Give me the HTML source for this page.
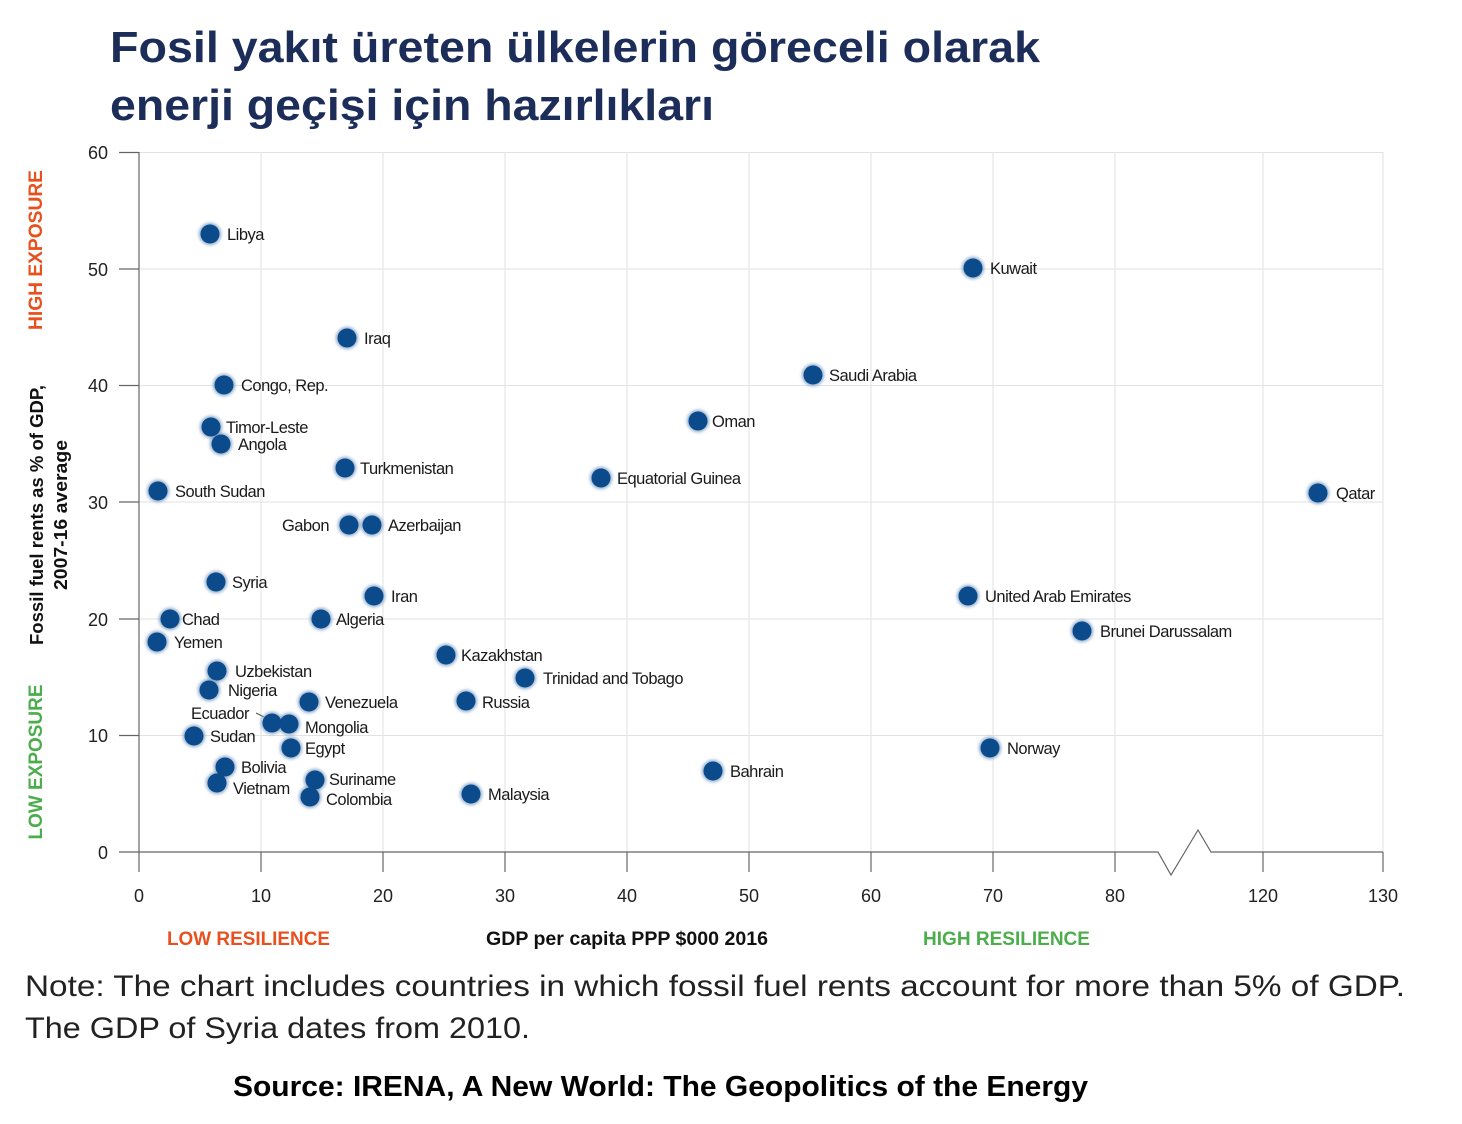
<!DOCTYPE html>
<html><head><meta charset="utf-8"><style>
html,body{margin:0;padding:0;background:#fff}
svg{display:block}
text{font-family:"Liberation Sans",sans-serif}
</style></head><body>
<svg width="1462" height="1124" viewBox="0 0 1462 1124" xmlns="http://www.w3.org/2000/svg">
<defs>
<filter id="g" x="-50%" y="-50%" width="200%" height="200%"><feGaussianBlur stdDeviation="1.6"/></filter>
</defs>
<text x="110" y="62" font-size="44" font-weight="bold" fill="#1c2d5a" textLength="930" lengthAdjust="spacingAndGlyphs">Fosil yakıt üreten ülkelerin göreceli olarak</text>
<text x="110" y="120" font-size="44" font-weight="bold" fill="#1c2d5a" textLength="604" lengthAdjust="spacingAndGlyphs">enerji geçişi için hazırlıkları</text>

<g stroke="#e2e2e2" stroke-width="1">
<line x1="139" y1="152.5" x2="1383" y2="152.5"/>
<line x1="139" y1="269" x2="1383" y2="269"/>
<line x1="139" y1="385.5" x2="1383" y2="385.5"/>
<line x1="139" y1="502" x2="1383" y2="502"/>
<line x1="139" y1="619" x2="1383" y2="619"/>
<line x1="139" y1="735.5" x2="1383" y2="735.5"/>
<line x1="261" y1="152" x2="261" y2="852"/>
<line x1="383" y1="152" x2="383" y2="852"/>
<line x1="505" y1="152" x2="505" y2="852"/>
<line x1="627" y1="152" x2="627" y2="852"/>
<line x1="749" y1="152" x2="749" y2="852"/>
<line x1="871" y1="152" x2="871" y2="852"/>
<line x1="993" y1="152" x2="993" y2="852"/>
<line x1="1115" y1="152" x2="1115" y2="852"/>
<line x1="1263" y1="152" x2="1263" y2="852"/>
<line x1="1383" y1="152" x2="1383" y2="852"/>
</g>
<g stroke="#666" stroke-width="1.2" fill="none">
<line x1="139" y1="152" x2="139" y2="872"/>
<line x1="119" y1="152.5" x2="139" y2="152.5"/>
<line x1="119" y1="269" x2="139" y2="269"/>
<line x1="119" y1="385.5" x2="139" y2="385.5"/>
<line x1="119" y1="502" x2="139" y2="502"/>
<line x1="119" y1="619" x2="139" y2="619"/>
<line x1="119" y1="735.5" x2="139" y2="735.5"/>
<polyline points="119,852 1158,852 1171,875 1198,830 1211,852 1383,852"/>
<line x1="261" y1="852" x2="261" y2="872"/>
<line x1="383" y1="852" x2="383" y2="872"/>
<line x1="505" y1="852" x2="505" y2="872"/>
<line x1="627" y1="852" x2="627" y2="872"/>
<line x1="749" y1="852" x2="749" y2="872"/>
<line x1="871" y1="852" x2="871" y2="872"/>
<line x1="993" y1="852" x2="993" y2="872"/>
<line x1="1115" y1="852" x2="1115" y2="872"/>
<line x1="1263" y1="852" x2="1263" y2="872"/>
<line x1="1383" y1="852" x2="1383" y2="872"/>
</g>
<g font-size="18" fill="#222" text-anchor="end">
<text x="108" y="159">60</text><text x="108" y="276">50</text><text x="108" y="392">40</text>
<text x="108" y="509">30</text><text x="108" y="626">20</text><text x="108" y="742">10</text><text x="108" y="859">0</text>
</g>
<g font-size="18" fill="#222" text-anchor="middle">
<text x="139" y="902">0</text><text x="261" y="902">10</text><text x="383" y="902">20</text><text x="505" y="902">30</text>
<text x="627" y="902">40</text><text x="749" y="902">50</text><text x="871" y="902">60</text><text x="993" y="902">70</text>
<text x="1115" y="902">80</text><text x="1263" y="902">120</text><text x="1383" y="902">130</text>
</g>

<text transform="translate(42,250) rotate(-90)" text-anchor="middle" font-size="19" font-weight="bold" fill="#e8501e" textLength="160" lengthAdjust="spacingAndGlyphs">HIGH EXPOSURE</text>
<text transform="translate(42,762) rotate(-90)" text-anchor="middle" font-size="19" font-weight="bold" fill="#4cad4c" textLength="155" lengthAdjust="spacingAndGlyphs">LOW EXPOSURE</text>
<text transform="translate(43,515) rotate(-90)" text-anchor="middle" font-size="18" font-weight="bold" fill="#111" textLength="260" lengthAdjust="spacingAndGlyphs">Fossil fuel rents as % of GDP,</text>
<text transform="translate(67,515) rotate(-90)" text-anchor="middle" font-size="18" font-weight="bold" fill="#111" textLength="150" lengthAdjust="spacingAndGlyphs">2007-16 average</text>

<text x="167" y="945" font-size="19" font-weight="bold" fill="#e8501e" textLength="163" lengthAdjust="spacingAndGlyphs">LOW RESILIENCE</text>
<text x="486" y="945" font-size="19" font-weight="bold" fill="#111" textLength="282" lengthAdjust="spacingAndGlyphs">GDP per capita PPP $000 2016</text>
<text x="923" y="945" font-size="19" font-weight="bold" fill="#4cad4c" textLength="167" lengthAdjust="spacingAndGlyphs">HIGH RESILIENCE</text>

<line x1="256" y1="713" x2="266" y2="718" stroke="#555" stroke-width="1"/>

<g id="dots">
<g fill="#8aa9c9" filter="url(#g)">
<circle cx="210" cy="234" r="11"/><circle cx="973" cy="268" r="11"/><circle cx="347" cy="338" r="11"/><circle cx="813" cy="375" r="11"/>
<circle cx="224" cy="385" r="11"/><circle cx="698" cy="421" r="11"/><circle cx="211" cy="427" r="11"/><circle cx="221" cy="444" r="11"/>
<circle cx="345" cy="468" r="11"/><circle cx="601" cy="478" r="11"/><circle cx="158" cy="491" r="11"/><circle cx="1318" cy="493" r="11"/>
<circle cx="349" cy="525" r="11"/><circle cx="372" cy="525" r="11"/><circle cx="216" cy="582" r="11"/><circle cx="374" cy="596" r="11"/>
<circle cx="968" cy="596" r="11"/><circle cx="170" cy="619" r="11"/><circle cx="321" cy="619" r="11"/><circle cx="1082" cy="631" r="11"/>
<circle cx="157" cy="642" r="11"/><circle cx="446" cy="655" r="11"/><circle cx="217" cy="671" r="11"/><circle cx="525" cy="678" r="11"/>
<circle cx="209" cy="690" r="11"/><circle cx="309" cy="702" r="11"/><circle cx="466" cy="701" r="11"/><circle cx="272" cy="723" r="11"/>
<circle cx="289" cy="724" r="11"/><circle cx="194" cy="736" r="11"/><circle cx="291" cy="748" r="11"/><circle cx="990" cy="748" r="11"/>
<circle cx="225" cy="767" r="11"/><circle cx="713" cy="771" r="11"/><circle cx="217" cy="783" r="11"/><circle cx="315" cy="780" r="11"/>
<circle cx="310" cy="797" r="11"/><circle cx="471" cy="794" r="11"/>
</g>
<g fill="#0b4a8b">
<circle cx="210" cy="234" r="9.5"/><circle cx="973" cy="268" r="9.5"/><circle cx="347" cy="338" r="9.5"/><circle cx="813" cy="375" r="9.5"/>
<circle cx="224" cy="385" r="9.5"/><circle cx="698" cy="421" r="9.5"/><circle cx="211" cy="427" r="9.5"/><circle cx="221" cy="444" r="9.5"/>
<circle cx="345" cy="468" r="9.5"/><circle cx="601" cy="478" r="9.5"/><circle cx="158" cy="491" r="9.5"/><circle cx="1318" cy="493" r="9.5"/>
<circle cx="349" cy="525" r="9.5"/><circle cx="372" cy="525" r="9.5"/><circle cx="216" cy="582" r="9.5"/><circle cx="374" cy="596" r="9.5"/>
<circle cx="968" cy="596" r="9.5"/><circle cx="170" cy="619" r="9.5"/><circle cx="321" cy="619" r="9.5"/><circle cx="1082" cy="631" r="9.5"/>
<circle cx="157" cy="642" r="9.5"/><circle cx="446" cy="655" r="9.5"/><circle cx="217" cy="671" r="9.5"/><circle cx="525" cy="678" r="9.5"/>
<circle cx="209" cy="690" r="9.5"/><circle cx="309" cy="702" r="9.5"/><circle cx="466" cy="701" r="9.5"/><circle cx="272" cy="723" r="9.5"/>
<circle cx="289" cy="724" r="9.5"/><circle cx="194" cy="736" r="9.5"/><circle cx="291" cy="748" r="9.5"/><circle cx="990" cy="748" r="9.5"/>
<circle cx="225" cy="767" r="9.5"/><circle cx="713" cy="771" r="9.5"/><circle cx="217" cy="783" r="9.5"/><circle cx="315" cy="780" r="9.5"/>
<circle cx="310" cy="797" r="9.5"/><circle cx="471" cy="794" r="9.5"/>
</g>
</g>

<g font-size="16.5" fill="#1a1a1a" letter-spacing="-0.5">
<text x="227" y="240">Libya</text>
<text x="990" y="274">Kuwait</text>
<text x="364" y="344">Iraq</text>
<text x="829" y="381">Saudi Arabia</text>
<text x="241" y="391">Congo, Rep.</text>
<text x="712" y="427">Oman</text>
<text x="226" y="433">Timor-Leste</text>
<text x="238" y="450">Angola</text>
<text x="360" y="474">Turkmenistan</text>
<text x="617" y="484">Equatorial Guinea</text>
<text x="175" y="497">South Sudan</text>
<text x="1336" y="499">Qatar</text>
<text x="329" y="531" text-anchor="end">Gabon</text>
<text x="388" y="531">Azerbaijan</text>
<text x="232" y="588">Syria</text>
<text x="391" y="602">Iran</text>
<text x="985" y="602">United Arab Emirates</text>
<text x="182" y="625">Chad</text>
<text x="336" y="625">Algeria</text>
<text x="1100" y="637">Brunei Darussalam</text>
<text x="174" y="648">Yemen</text>
<text x="461" y="661">Kazakhstan</text>
<text x="235" y="677">Uzbekistan</text>
<text x="543" y="684">Trinidad and Tobago</text>
<text x="228" y="696">Nigeria</text>
<text x="325" y="708">Venezuela</text>
<text x="482" y="708">Russia</text>
<text x="191" y="719">Ecuador</text>
<text x="305" y="733">Mongolia</text>
<text x="210" y="742">Sudan</text>
<text x="305" y="754">Egypt</text>
<text x="1007" y="754">Norway</text>
<text x="241" y="773">Bolivia</text>
<text x="730" y="777">Bahrain</text>
<text x="233" y="794">Vietnam</text>
<text x="329" y="785">Suriname</text>
<text x="326" y="805">Colombia</text>
<text x="488" y="800">Malaysia</text>
</g>

<text x="25" y="996" font-size="30" fill="#222" textLength="1380" lengthAdjust="spacingAndGlyphs">Note: The chart includes countries in which fossil fuel rents account for more than 5% of GDP.</text>
<text x="25" y="1038" font-size="30" fill="#222" textLength="505" lengthAdjust="spacingAndGlyphs">The GDP of Syria dates from 2010.</text>
<text x="233" y="1096" font-size="29" font-weight="bold" fill="#000" textLength="855" lengthAdjust="spacingAndGlyphs">Source: IRENA, A New World: The Geopolitics of the Energy</text>
</svg>
</body></html>
